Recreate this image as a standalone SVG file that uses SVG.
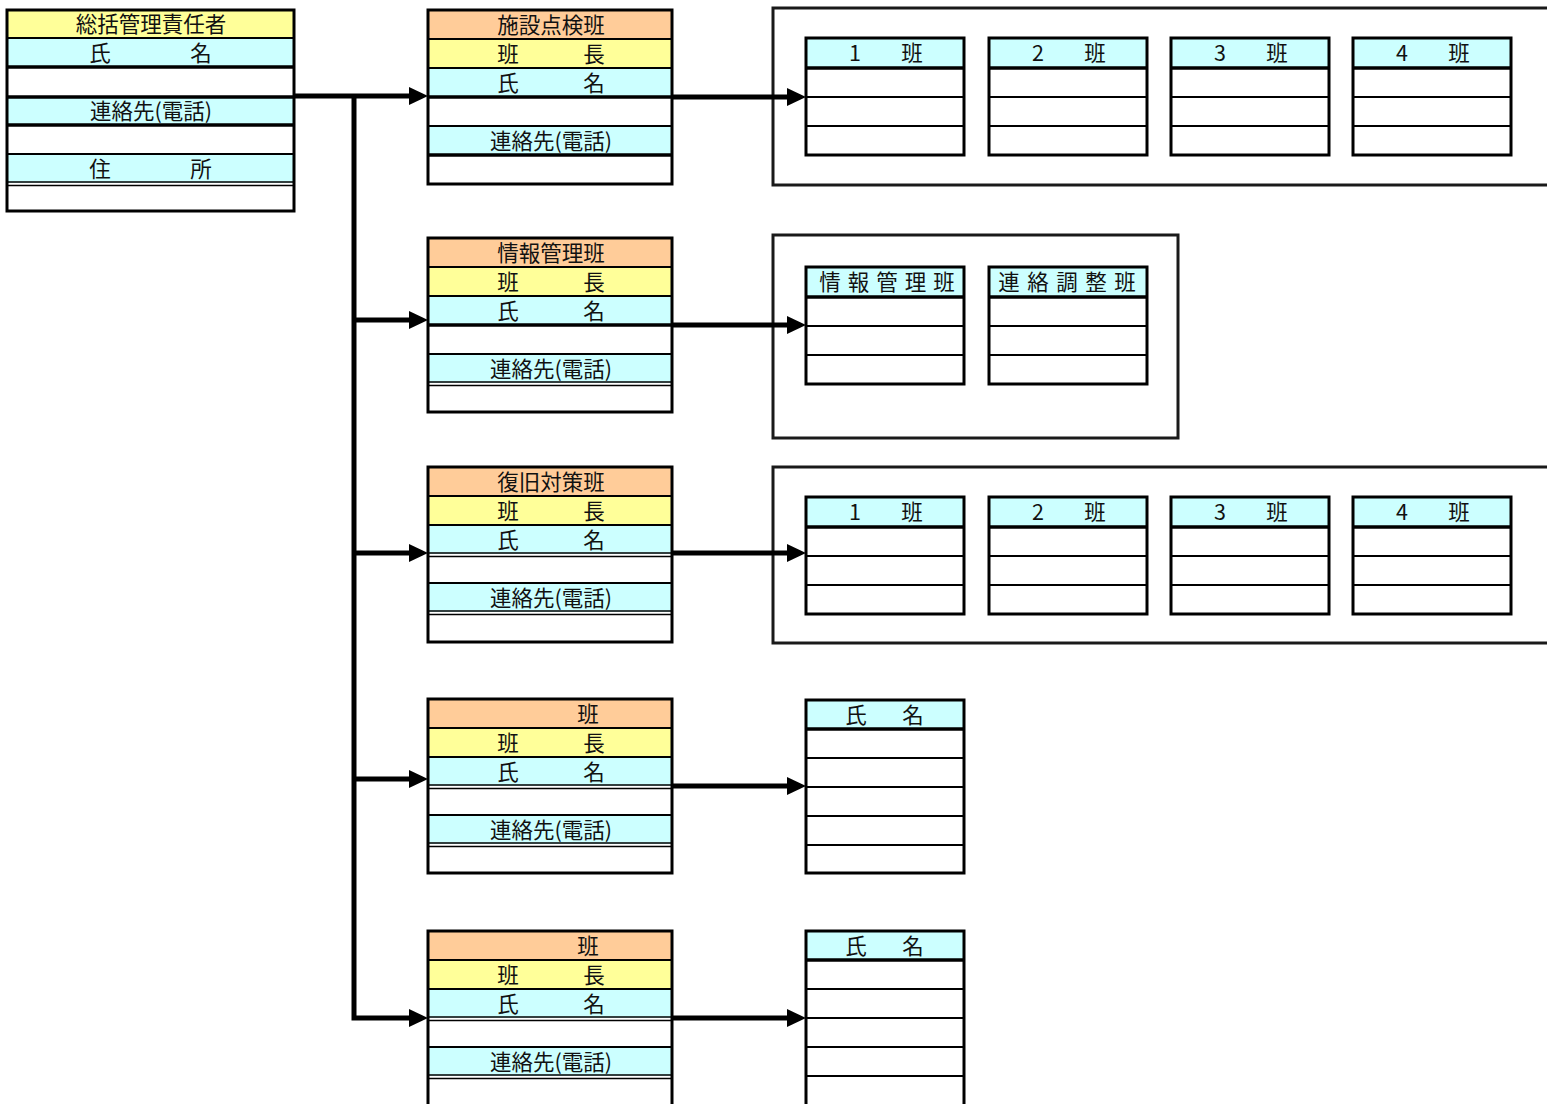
<svg xmlns="http://www.w3.org/2000/svg" width="1547" height="1104" viewBox="0 0 1547 1104">
<style>
text{font-family:"Noto Sans CJK JP","Noto Sans CJK SC",sans-serif;font-size:21.5px;fill:#111;text-anchor:middle}
.o{fill:none;stroke:#000;stroke-width:3}
.fr{fill:none;stroke:#1a1a1a;stroke-width:3}
.ln{stroke:#000;stroke-width:2}
.lt{stroke:#000;stroke-width:3.5}
.or{fill:#FFCC99}
.ye{fill:#FFFF99}
.cy{fill:#CCFFFF}
.wh{fill:#fff}
.c{fill:none;stroke:#000;stroke-width:5}
.d{stroke:#000;stroke-width:1.5}
</style>
<defs>
<marker id="ah" markerUnits="userSpaceOnUse" markerWidth="20" markerHeight="20" refX="8" refY="9" orient="auto"><path d="M0,0 L19,9 L0,18 Z" fill="#000"/></marker>
<g id="sub4">
<rect class="cy" x="0" y="0" width="158" height="30"/>
<line class="lt" x1="0" y1="30" x2="158" y2="30"/>
<line class="ln" x1="0" y1="59" x2="158" y2="59"/>
<line class="ln" x1="0" y1="88" x2="158" y2="88"/>
<rect class="o" x="0" y="0" width="158" height="117"/>
</g>
<g id="teambase">
<rect class="wh" x="0" y="0" width="244" height="174"/>
<rect class="or" x="0" y="0" width="244" height="29"/>
<rect class="ye" x="0" y="29" width="244" height="29"/>
<rect class="cy" x="0" y="58" width="244" height="29"/>
<rect class="cy" x="0" y="116" width="244" height="29"/>
<line class="ln" x1="0" y1="29" x2="244" y2="29"/>
<line class="ln" x1="0" y1="58" x2="244" y2="58"/>
<line class="ln" x1="0" y1="116" x2="244" y2="116"/>
</g>
</defs>
<rect width="1547" height="1104" fill="#fff"/>

<!-- frames -->
<g id="frames">
<rect class="fr" x="773" y="8" width="800" height="177"/>
<rect class="fr" x="773" y="235" width="405" height="203"/>
<rect class="fr" x="773" y="467" width="800" height="176"/>
</g>

<!-- chief -->
<g id="chief">
<rect class="wh" x="7" y="10" width="287" height="201"/>
<rect class="ye" x="7" y="10" width="287" height="28"/>
<rect class="cy" x="7" y="38" width="287" height="29"/>
<rect class="cy" x="7" y="97" width="287" height="28"/>
<rect class="cy" x="7" y="154" width="287" height="29"/>
<line class="ln" x1="7" y1="38" x2="294" y2="38"/>
<line class="lt" x1="7" y1="67" x2="294" y2="67"/>
<line class="lt" x1="7" y1="97" x2="294" y2="97"/>
<line class="lt" x1="7" y1="125" x2="294" y2="125"/>
<line class="ln" x1="7" y1="154" x2="294" y2="154"/>
<line class="d" x1="7" y1="182" x2="294" y2="182"/>
<line class="d" x1="7" y1="185.5" x2="294" y2="185.5"/>
<rect class="o" x="7" y="10" width="287" height="201"/>
<text x="151" y="32">総括管理責任者</text>
<text x="100" y="61">氏</text><text x="201" y="61">名</text>
<text x="151" y="119">連絡先(電話)</text>
<text x="100" y="177">住</text><text x="201" y="177">所</text>
</g>

<!-- team 1 -->
<g id="team1" transform="translate(428,10)">
<use href="#teambase"/>
<line class="lt" x1="0" y1="87" x2="244" y2="87"/>
<line class="lt" x1="0" y1="145" x2="244" y2="145"/>
<rect class="o" x="0" y="0" width="244" height="174"/>
<text x="123" y="22.5">施設点検班</text>
<text x="80" y="51.5">班</text><text x="166" y="51.5">長</text>
<text x="80" y="80.5">氏</text><text x="166" y="80.5">名</text>
<text x="123" y="138.5">連絡先(電話)</text>
</g>

<!-- team 2 -->
<g id="team2" transform="translate(428,238)">
<use href="#teambase"/>
<line class="lt" x1="0" y1="87" x2="244" y2="87"/>
<line class="d" x1="0" y1="144" x2="244" y2="144"/>
<line class="d" x1="0" y1="147.5" x2="244" y2="147.5"/>
<rect class="o" x="0" y="0" width="244" height="174"/>
<text x="123" y="22.5">情報管理班</text>
<text x="80" y="51.5">班</text><text x="166" y="51.5">長</text>
<text x="80" y="80.5">氏</text><text x="166" y="80.5">名</text>
<text x="123" y="138.5">連絡先(電話)</text>
</g>

<!-- team 3 -->
<g id="team3" transform="translate(428,467)">
<use href="#teambase"/>
<line class="d" x1="0" y1="86" x2="244" y2="86"/>
<line class="d" x1="0" y1="89.5" x2="244" y2="89.5"/>
<line class="d" x1="0" y1="144" x2="244" y2="144"/>
<line class="d" x1="0" y1="147.5" x2="244" y2="147.5"/>
<rect class="o" x="0" y="0" width="244" height="175"/>
<text x="123" y="22.5">復旧対策班</text>
<text x="80" y="51.5">班</text><text x="166" y="51.5">長</text>
<text x="80" y="80.5">氏</text><text x="166" y="80.5">名</text>
<text x="123" y="138.5">連絡先(電話)</text>
</g>

<!-- team 4 -->
<g id="team4" transform="translate(428,699)">
<use href="#teambase"/>
<line class="d" x1="0" y1="86" x2="244" y2="86"/>
<line class="d" x1="0" y1="89.5" x2="244" y2="89.5"/>
<line class="d" x1="0" y1="144" x2="244" y2="144"/>
<line class="d" x1="0" y1="147.5" x2="244" y2="147.5"/>
<rect class="o" x="0" y="0" width="244" height="174"/>
<text x="160" y="22.5">班</text>
<text x="80" y="51.5">班</text><text x="166" y="51.5">長</text>
<text x="80" y="80.5">氏</text><text x="166" y="80.5">名</text>
<text x="123" y="138.5">連絡先(電話)</text>
</g>

<!-- team 5 -->
<g id="team5" transform="translate(428,931)">
<rect class="wh" x="0" y="0" width="244" height="190"/>
<rect class="or" x="0" y="0" width="244" height="29"/>
<rect class="ye" x="0" y="29" width="244" height="29"/>
<rect class="cy" x="0" y="58" width="244" height="29"/>
<rect class="cy" x="0" y="116" width="244" height="29"/>
<line class="ln" x1="0" y1="29" x2="244" y2="29"/>
<line class="ln" x1="0" y1="58" x2="244" y2="58"/>
<line class="ln" x1="0" y1="116" x2="244" y2="116"/>
<line class="d" x1="0" y1="86" x2="244" y2="86"/>
<line class="d" x1="0" y1="89.5" x2="244" y2="89.5"/>
<line class="d" x1="0" y1="144" x2="244" y2="144"/>
<line class="d" x1="0" y1="147.5" x2="244" y2="147.5"/>
<rect class="o" x="0" y="0" width="244" height="190"/>
<text x="160" y="22.5">班</text>
<text x="80" y="51.5">班</text><text x="166" y="51.5">長</text>
<text x="80" y="80.5">氏</text><text x="166" y="80.5">名</text>
<text x="123" y="138.5">連絡先(電話)</text>
</g>

<!-- sub groups, frame 1 -->
<g id="sub1-1" transform="translate(806,38)"><use href="#sub4"/><text x="49" y="23">1</text><text x="106" y="23">班</text></g>
<g id="sub1-2" transform="translate(989,38)"><use href="#sub4"/><text x="49" y="23">2</text><text x="106" y="23">班</text></g>
<g id="sub1-3" transform="translate(1171,38)"><use href="#sub4"/><text x="49" y="23">3</text><text x="106" y="23">班</text></g>
<g id="sub1-4" transform="translate(1353,38)"><use href="#sub4"/><text x="49" y="23">4</text><text x="106" y="23">班</text></g>

<!-- sub groups, frame 2 -->
<g id="sub2-1" transform="translate(806,267)"><use href="#sub4"/><text x="24 52.5 81 109.5 138" y="23">情報管理班</text></g>
<g id="sub2-2" transform="translate(989,267)"><use href="#sub4"/><text x="20 49 78 107 136" y="23">連絡調整班</text></g>

<!-- sub groups, frame 3 -->
<g id="sub3-1" transform="translate(806,497)"><use href="#sub4"/><text x="49" y="23">1</text><text x="106" y="23">班</text></g>
<g id="sub3-2" transform="translate(989,497)"><use href="#sub4"/><text x="49" y="23">2</text><text x="106" y="23">班</text></g>
<g id="sub3-3" transform="translate(1171,497)"><use href="#sub4"/><text x="49" y="23">3</text><text x="106" y="23">班</text></g>
<g id="sub3-4" transform="translate(1353,497)"><use href="#sub4"/><text x="49" y="23">4</text><text x="106" y="23">班</text></g>

<!-- name lists -->
<g id="names4" transform="translate(806,700)">
<rect class="wh" x="0" y="0" width="158" height="173"/>
<rect class="cy" x="0" y="0" width="158" height="29"/>
<line class="lt" x1="0" y1="29" x2="158" y2="29"/>
<line class="ln" x1="0" y1="58" x2="158" y2="58"/>
<line class="ln" x1="0" y1="87" x2="158" y2="87"/>
<line class="ln" x1="0" y1="116" x2="158" y2="116"/>
<line class="ln" x1="0" y1="145" x2="158" y2="145"/>
<rect class="o" x="0" y="0" width="158" height="173"/>
<text x="50" y="22.5">氏</text><text x="107" y="22.5">名</text>
</g>
<g id="names5" transform="translate(806,931)">
<rect class="wh" x="0" y="0" width="158" height="190"/>
<rect class="cy" x="0" y="0" width="158" height="29"/>
<line class="lt" x1="0" y1="29" x2="158" y2="29"/>
<line class="ln" x1="0" y1="58" x2="158" y2="58"/>
<line class="ln" x1="0" y1="87" x2="158" y2="87"/>
<line class="ln" x1="0" y1="116" x2="158" y2="116"/>
<line class="ln" x1="0" y1="145" x2="158" y2="145"/>
<rect class="o" x="0" y="0" width="158" height="190"/>
<text x="50" y="22.5">氏</text><text x="107" y="22.5">名</text>
</g>

<!-- connectors -->
<g id="connectors">
<path class="c" d="M295,96 H417" marker-end="url(#ah)"/>
<path class="c" d="M354,96 V1018 H417" marker-end="url(#ah)"/>
<path class="c" d="M354,320 H417" marker-end="url(#ah)"/>
<path class="c" d="M354,553 H417" marker-end="url(#ah)"/>
<path class="c" d="M354,779 H417" marker-end="url(#ah)"/>
<path class="c" d="M673,97 H795" marker-end="url(#ah)"/>
<path class="c" d="M673,325 H795" marker-end="url(#ah)"/>
<path class="c" d="M673,553 H795" marker-end="url(#ah)"/>
<path class="c" d="M673,786 H795" marker-end="url(#ah)"/>
<path class="c" d="M673,1018 H795" marker-end="url(#ah)"/>
</g>
</svg>
